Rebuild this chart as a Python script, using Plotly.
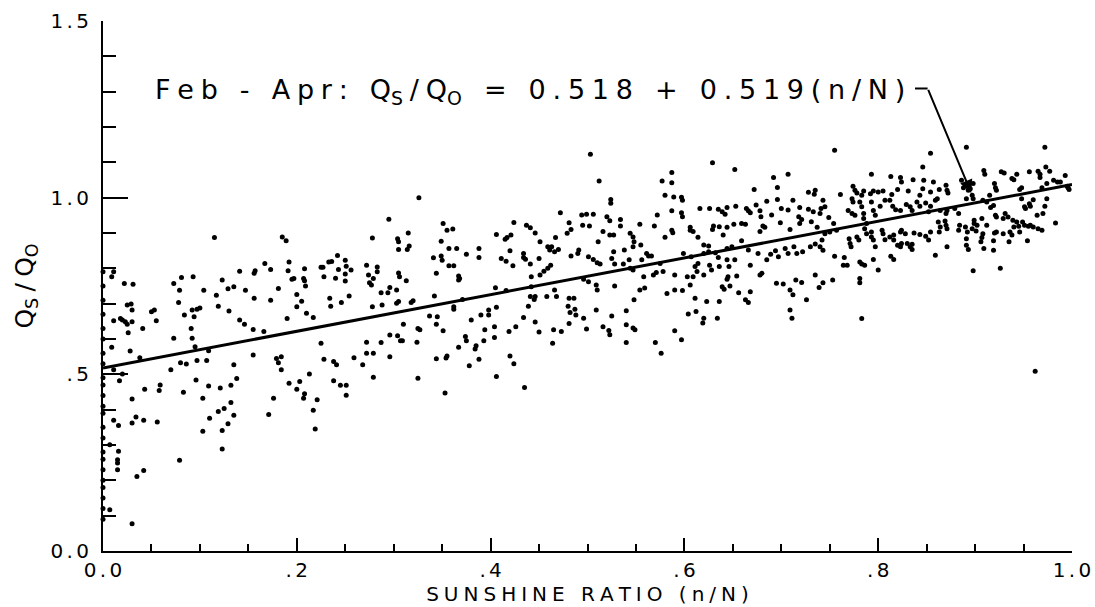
import plotly.graph_objects as go

# ---------------- data ----------------
fit_intercept = 0.518
fit_slope = 0.519

x_tick_vals = [0.0, 0.2, 0.4, 0.6, 0.8, 1.0]
x_tick_text = ["0.0", ".2", ".4", ".6", ".8", "1.0"]
y_tick_vals = [0.0, 0.5, 1.0, 1.5]
y_tick_text = ["0.0", ".5", "1.0", "1.5"]

# observations lying on the n/N = 0 axis
axis_y = [0.09, 0.12, 0.15, 0.18, 0.20, 0.23, 0.26, 0.28, 0.32, 0.35, 0.39, 0.41,
          0.44, 0.47, 0.49, 0.53, 0.56, 0.60, 0.63, 0.67, 0.71, 0.75, 0.79]

obs_low_left = [
    (.011, .370), (.016, .355), (.030, .362), (.034, .379), (.042, .370), (.056, .365), (.110, .376),
    (.119, .395), (.125, .403), (.132, .420), (.135, .384), (.129, .360), (.103, .339), (.123, .341),
    (.123, .289), (.171, .386), (.079, .257), (.007, .301), (.016, .282), (.015, .258), (.015, .249),
    (.015, .230), (.035, .211), (.042, .228), (.007, .117), (.030, .077),
    (.279, .492), (.325, .489), (.406, .494), (.435, .463), (.353, .447),
    (.540, .590), (.570, .590), (.597, .598), (.576, .560), (.962, .509),
]

obs_0_25 = [
    (.115, .887), (.185, .889), (.189, .878), (.011, .790), (.009, .776), (.022, .757), (.031, .755), (.073, .757),
    (.081, .774), (.093, .776), (.079, .738), (.104, .738), (.123, .767), (.129, .742), (.135, .748), (.141, .792),
    (.147, .738), (.156, .786), (.157, .793), (.167, .814), (.173, .797), (.192, .818), (.191, .793), (.195, .769),
    (.197, .771), (.208, .799), (.207, .771), (.208, .765), (.209, .750), (.225, .803), (.227, .803), (.228, .776),
    (.233, .818), (.236, .819), (.242, .836), (.240, .772), (.243, .797),
    (.117, .724), (.119, .693), (.130, .679), (.156, .715), (.173, .710), (.181, .743), (.200, .726), (.200, .691),
    (.205, .707), (.210, .673), (.217, .661), (.190, .658), (.234, .715), (.235, .693),
    (.025, .696), (.029, .699), (.030, .682), (.011, .652), (.018, .658), (.020, .654), (.023, .649), (.025, .642),
    (.030, .649), (.026, .618), (.041, .630), (.050, .677), (.053, .682), (.055, .652), (.078, .703), (.084, .668),
    (.092, .682), (.094, .663), (.097, .684), (.100, .688), (.091, .630), (.092, .602), (.073, .602), (.141, .654),
    (.146, .642), (.155, .627), (.166, .621), (.225, .588), (.228, .543), (.238, .536), (.241, .527),
    (.009, .577), (.028, .566), (.038, .547), (.080, .533), (.086, .529), (.097, .539), (.107, .539), (.070, .513),
    (.017, .482), (.011, .513), (.020, .501), (.155, .555), (.179, .545), (.184, .550), (.184, .513), (.135, .527),
    (.138, .488), (.096, .484), (.059, .470), (.058, .454), (.043, .458), (.030, .430), (.083, .449), (.109, .467),
    (.121, .461), (.132, .469), (.103, .432), (.176, .432), (.192, .475), (.203, .480), (.200, .458), (.208, .445),
    (.207, .432), (.221, .428), (.213, .501), (.217, .398), (.238, .482), (.245, .469), (.251, .469), (.251, .441),
    (.219, .345), (.095, .578), (.109, .567), (.181, .533),
]

obs_25_50 = [
    (.326, 1.000), (.295, .939), (.278, .886), (.304, .884), (.305, .875), (.305, .853), (.315, .900), (.316, .863),
    (.314, .853), (.351, .927), (.355, .908), (.361, .911), (.349, .877), (.341, .830), (.349, .835), (.350, .823),
    (.357, .856), (.365, .856), (.375, .840), (.388, .856), (.388, .831), (.357, .807), (.362, .807), (.344, .786),
    (.367, .778), (.368, .771), (.367, .767), (.406, .896), (.415, .882), (.417, .887), (.421, .894), (.424, .930),
    (.437, .922), (.441, .915), (.446, .900), (.420, .850), (.411, .828), (.416, .820), (.423, .807), (.434, .842),
    (.434, .831), (.436, .826), (.441, .812), (.451, .875), (.450, .828), (.459, .861), (.461, .852), (.463, .861),
    (.466, .847), (.470, .853), (.467, .887), (.472, .957), (.481, .929), (.483, .910), (.479, .899), (.483, .835),
    (.490, .842), (.491, .852), (.451, .781), (.455, .792), (.459, .800), (.462, .809), (.442, .776), (.250, .823),
    (.251, .806), (.250, .784), (.256, .795), (.250, .764), (.272, .809), (.274, .781), (.279, .771), (.283, .804),
    (.283, .790), (.275, .759), (.277, .753), (.287, .731), (.296, .746), (.294, .731), (.303, .739), (.305, .787),
    (.306, .776), (.313, .765), (.254, .722), (.246, .703), (.278, .691), (.288, .696), (.303, .701), (.305, .706),
    (.318, .703), (.320, .708), (.342, .722), (.337, .665), (.345, .663), (.344, .642), (.351, .623), (.362, .691),
    (.362, .684), (.371, .712), (.380, .654), (.390, .668), (.398, .682), (.398, .668), (.406, .690), (.404, .635),
    (.394, .626), (.405, .745), (.416, .737), (.442, .748), (.441, .720), (.446, .720), (.445, .712), (.439, .693),
    (.458, .720), (.466, .739), (.468, .720), (.481, .715), (.486, .715), (.480, .693), (.482, .675), (.487, .684),
    (.488, .668), (.481, .644), (.434, .661), (.446, .648), (.450, .620), (.465, .626), (.473, .621), (.464, .588),
    (.426, .635), (.419, .621), (.310, .642), (.325, .630), (.327, .626), (.296, .611), (.304, .609), (.307, .595),
    (.309, .595), (.272, .591), (.287, .590), (.324, .591), (.272, .560), (.279, .560), (.296, .550), (.259, .547),
    (.268, .527), (.344, .544), (.354, .546), (.355, .552), (.367, .577), (.374, .607), (.375, .595), (.385, .581),
    (.384, .572), (.393, .595), (.404, .604), (.388, .543), (.378, .524), (.420, .552), (.424, .530), (.503, 1.123),
]

obs_50_75 = [
    (.512, 1.047), (.629, 1.099), (.652, 1.080), (.587, 1.071), (.587, 1.042), (.577, 1.047), (.692, 1.057),
    (.707, 1.066), (.696, 1.029), (.672, 1.023), (.728, 1.015), (.735, 1.021), (.734, 1.010), (.524, .995),
    (.524, .984), (.580, 1.007), (.589, 1.002), (.597, 1.001), (.598, .993), (.572, .951), (.587, .963),
    (.597, .957), (.598, .946), (.616, .969), (.626, .969), (.635, .967), (.639, .960), (.642, .953), (.644, .972),
    (.653, .976), (.664, .969), (.666, .963), (.668, .957), (.674, .979), (.678, .963), (.679, .946), (.685, .990),
    (.690, .951), (.696, .995), (.700, .969), (.707, .965), (.712, .993), (.719, .972), (.718, .946), (.728, .967),
    (.733, .960), (.740, .955), (.721, .938), (.709, .910), (.719, .927), (.731, .932), (.737, .916), (.699, .929),
    (.681, .920), (.683, .916), (.678, .904), (.659, .927), (.663, .925), (.651, .925), (.644, .916), (.636, .918),
    (.630, .920), (.629, .910), (.640, .894), (.606, .916), (.606, .908), (.609, .904), (.614, .888), (.587, .908),
    (.588, .901), (.580, .888), (.569, .920), (.554, .925), (.534, .938), (.534, .920), (.520, .946), (.523, .935),
    (.506, .953), (.494, .951), (.499, .953), (.502, .920), (.495, .922), (.516, .904), (.523, .894), (.527, .894),
    (.511, .875), (.544, .899), (.547, .889), (.548, .875), (.547, .861), (.555, .866), (.538, .852), (.501, .833),
    (.506, .825), (.510, .816), (.513, .812), (.525, .828), (.528, .812), (.527, .847), (.543, .824), (.537, .812),
    (.556, .824), (.561, .842), (.563, .835), (.566, .835), (.575, .814), (.501, .762), (.509, .753), (.510, .739),
    (.496, .769), (.528, .750), (.544, .800), (.547, .795), (.558, .776), (.568, .781), (.571, .788), (.578, .791),
    (.590, .781), (.554, .739), (.559, .744), (.548, .711), (.582, .729), (.590, .739), (.598, .737), (.606, .753),
    (.603, .776), (.609, .776), (.613, .791), (.614, .814), (.599, .842), (.607, .833), (.620, .866), (.625, .863),
    (.625, .847), (.632, .844), (.620, .842), (.644, .856), (.649, .861), (.659, .878), (.635, .831), (.644, .824),
    (.652, .824), (.626, .809), (.611, .805), (.620, .781), (.636, .805), (.646, .805), (.628, .795), (.644, .769),
    (.645, .776), (.654, .778), (.639, .748), (.641, .741), (.647, .750), (.656, .731), (.668, .734), (.663, .711),
    (.666, .703), (.668, .809), (.678, .781), (.680, .786), (.685, .824), (.689, .840), (.697, .833), (.694, .850),
    (.704, .856), (.707, .842), (.716, .842), (.722, .847), (.730, .861), (.735, .869), (.713, .861), (.740, .861),
    (.676, .842), (.666, .852), (.695, .758), (.702, .756), (.709, .739), (.715, .767), (.721, .760), (.712, .725),
    (.726, .711), (.735, .781), (.739, .746), (.709, .682), (.711, .659), (.496, .659), (.509, .682), (.525, .665),
    (.516, .635), (.522, .624), (.523, .612), (.499, .628), (.540, .680), (.540, .640), (.547, .631), (.549, .626),
    (.590, .623), (.604, .671), (.612, .678), (.620, .659), (.619, .645), (.634, .659), (.611, .715), (.623, .706),
    (.636, .706),
]

obs_75_100 = [
    (.755, 1.134), (.793, 1.066), (.813, 1.060), (.823, 1.057), (.824, 1.044), (.836, 1.051), (.846, 1.087),
    (.847, 1.049), (.854, 1.126), (.857, 1.044), (.870, 1.035), (.871, 1.021), (.872, 1.013), (.863, 1.023),
    (.854, 1.016), (.846, 1.025), (.843, 1.007), (.831, 1.019), (.820, 1.023), (.814, 1.009), (.812, .993),
    (.805, 1.019), (.800, 1.016), (.795, 1.019), (.792, 1.011), (.785, 1.019), (.783, 1.007), (.774, 1.032),
    (.776, 1.021), (.778, 1.013), (.773, .997), (.774, .988), (.761, 1.009), (.769, .964), (.773, .955),
    (.776, .950), (.781, .988), (.783, .974), (.785, .955), (.793, .988), (.795, .964), (.797, .950), (.802, .976),
    (.807, .993), (.815, .976), (.818, .966), (.823, .964), (.829, .981), (.833, .974), (.835, .964), (.840, .988),
    (.843, .976), (.849, .985), (.852, .960), (.854, .976), (.859, .993), (.861, .997), (.864, .964), (.870, .955),
    (.871, .964), (.879, .969), (.741, .969), (.745, .974), (.749, .944), (.743, .993), (.754, .927), (.757, .908),
    (.750, .903), (.745, .898), (.785, .941), (.788, .927), (.786, .912), (.793, .903), (.793, .889), (.795, .880),
    (.797, .861), (.770, .884), (.771, .870), (.772, .861), (.778, .889), (.780, .880), (.804, .908), (.805, .898),
    (.807, .881), (.812, .889), (.816, .894), (.823, .903), (.824, .908), (.828, .898), (.837, .900), (.843, .896),
    (.849, .891), (.852, .880), (.854, .903), (.816, .880), (.820, .865), (.823, .861), (.824, .870), (.830, .870),
    (.833, .861), (.835, .853), (.813, .834), (.816, .825), (.835, .868), (.862, .931), (.864, .917), (.863, .903),
    (.869, .934), (.870, .922), (.871, .912), (.859, .837), (.871, .861), (.883, .955), (.884, .922), (.883, .908),
    (.890, .917), (.892, .903), (.891, .884), (.891, .865), (.893, .853), (.899, .936), (.899, .927), (.902, .922),
    (.897, .912), (.901, .906), (.907, .941), (.908, .898), (.907, .887), (.906, .875), (.909, .856), (.919, .851),
    (.912, .922), (.920, .900), (.922, .903), (.929, .898), (.921, .950), (.922, .945), (.929, .941), (.931, .955),
    (.934, .945), (.939, .936), (.936, .903), (.938, .894), (.940, .917), (.945, .919), (.943, .931), (.949, .931),
    (.951, .922), (.955, .919), (.957, .922), (.960, .917), (.965, .912), (.969, .908), (.946, .903), (.954, .878),
    (.935, .875), (.919, .878), (.898, .793), (.926, .800), (.964, .950), (.970, .955), (.972, .976), (.974, .997),
    (.960, .994), (.957, .976), (.956, .983), (.948, .997), (.951, .974), (.952, .969), (.919, .978), (.916, .972),
    (.912, .988), (.908, .993), (.915, 1.007), (.920, 1.040), (.921, 1.028), (.922, 1.021), (.909, 1.077),
    (.910, 1.066), (.927, 1.073), (.930, 1.070), (.938, 1.054), (.940, 1.051), (.943, 1.066), (.946, 1.023),
    (.948, 1.028), (.956, 1.073), (.965, 1.075), (.967, 1.066), (.967, 1.057), (.973, 1.087), (.977, 1.075),
    (.969, 1.028), (.974, 1.040), (.981, 1.049), (.985, 1.044), (.988, 1.044), (.993, 1.063), (1.004, 1.057),
    (1.008, 1.091), (.995, 1.032), (.996, 1.028), (.997, 1.023), (.983, .928), (1.004, .919), (.891, 1.143),
    (.972, 1.143), (.783, .658), (.781, .771), (.781, .759), (.753, .767), (.743, .759), (.755, .834),
    (.765, .831), (.768, .809), (.764, .809), (.783, .812), (.786, .809), (.781, .818), (.795, .825), (.800, .795),
    (.788, .898), (.742, .880), (.743, .851), (.886, 1.049), (.888, 1.028), (.893, 1.021), (.897, 1.007),
    (.898, 1.040), (.895, 1.025), (.891, .997), (.898, .997),
]

# ---------------- build ----------------
FONT = "DejaVu Sans"
SEP = "\u2005"       # letter spacing for the plotter-style lettering
TICK_SEP = "\u2006"  # tighter spacing for tick labels


def spaced(s, sep=SEP):
    return sep.join(s)


obs = [(0.0, v) for v in axis_y] + obs_low_left + obs_0_25 + obs_25_50 + obs_50_75 + obs_75_100
sun = [p[0] for p in obs]
q = [p[1] for p in obs]

fit_x = [0.0, 1.0]
fit_y = [fit_intercept + fit_slope * v for v in fit_x]

fig = go.Figure()
fig.add_trace(go.Scatter(x=sun, y=q, mode="markers", cliponaxis=False,
                         marker=dict(size=5, color="black"), showlegend=False))
fig.add_trace(go.Scatter(x=fit_x, y=fit_y, mode="lines", cliponaxis=False,
                         line=dict(color="black", width=3), showlegend=False))

eq_text = (spaced("Feb - Apr: ") + SEP + "Q<sub>S</sub>" + SEP + "/" + SEP + "Q<sub>O</sub>" + SEP
           + spaced(" = %s + %s(n/N)" % (f"{fit_intercept:.3f}", f"{fit_slope:.3f}")))

fig.add_annotation(x=0.052, y=1.30, xref="x", yref="y", text=eq_text, showarrow=False,
                   xanchor="left", yanchor="middle", font=dict(family=FONT, size=27, color="black"))
# leader with arrow pointing into the data cloud
fig.add_shape(type="line", x0=0.838, y0=1.309, x1=0.851, y1=1.309, xref="x", yref="y",
              line=dict(color="black", width=2))
fig.add_annotation(x=0.896, y=1.013, ax=0.851, ay=1.309, xref="x", yref="y", axref="x", ayref="y",
                   text="", showarrow=True, arrowhead=2, arrowsize=1.3, arrowwidth=2,
                   arrowcolor="black", standoff=0)

axis_common = dict(showline=True, linecolor="black", linewidth=2, showgrid=False, zeroline=False,
                   ticks="inside", tickcolor="black", tickwidth=2, tickmode="array", automargin=False)

fig.update_layout(
    width=1095, height=607,
    margin=dict(l=103, r=23, t=21, b=56),
    paper_bgcolor="white", plot_bgcolor="white",
    font=dict(family=FONT, color="black"),
    xaxis=dict(axis_common, range=[0, 1], tickvals=x_tick_vals,
               ticktext=[spaced(t, TICK_SEP) for t in x_tick_text], ticklen=13,
               tickfont=dict(size=20), ticklabelstandoff=0,
               minor=dict(tickmode="linear", tick0=0, dtick=0.05, ticks="inside", ticklen=7,
                          tickwidth=2, tickcolor="black"),
               title=dict(text=spaced("SUNSHINE RATIO (n/N)"), font=dict(size=20), standoff=0)),
    yaxis=dict(axis_common, range=[0, 1.5], tickvals=y_tick_vals,
               ticktext=[spaced(t, TICK_SEP) for t in y_tick_text], ticklen=25,
               tickfont=dict(size=20), ticklabelstandoff=8,
               minor=dict(tickmode="linear", tick0=0, dtick=0.1, ticks="inside", ticklen=13,
                          tickwidth=2, tickcolor="black"),
               title=dict(text="Q<sub>S</sub>" + SEP + "/" + SEP + "Q<sub>O</sub>",
                          font=dict(size=25), standoff=10)),
)

# remove the default page margin so the 1095x607 figure fills the window exactly
fig.write_html("out.html",
               config={"displayModeBar": False},
               post_script="document.body.style.margin='0';"
                           "document.documentElement.style.overflow='hidden';")
